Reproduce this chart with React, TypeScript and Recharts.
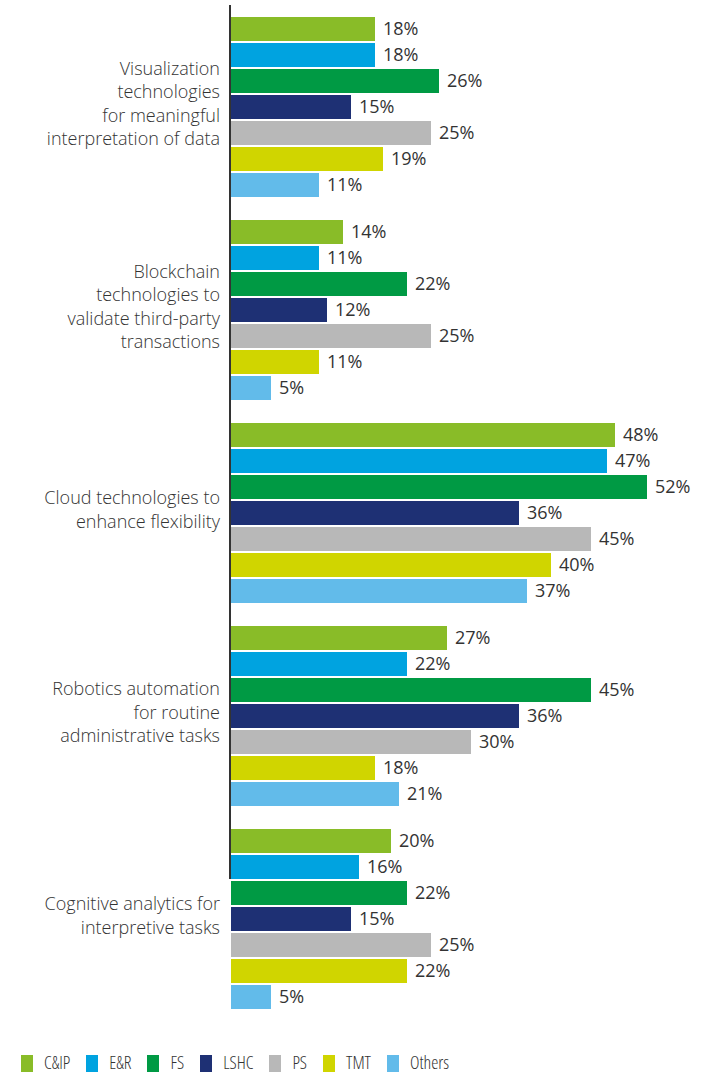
import { BarChart, Bar, XAxis, YAxis, LabelList } from "recharts";

const categories = [
  "Visualization technologies for meaningful interpretation of data",
  "Blockchain technologies to validate third-party transactions",
  "Cloud technologies to enhance flexibility",
  "Robotics automation for routine administrative tasks",
  "Cognitive analytics for interpretive tasks",
];
// how the category labels wrap in the picture
const categoryLines = [
  ["Visualization", "technologies", "for meaningful", "interpretation of data"],
  ["Blockchain", "technologies to", "validate third-party", "transactions"],
  ["Cloud technologies to", "enhance flexibility"],
  ["Robotics automation", "for routine", "administrative tasks"],
  ["Cognitive analytics for", "interpretive tasks"],
];

const seriesNames = ["C&IP", "E&R", "FS", "LSHC", "PS", "TMT", "Others"];
const seriesColors = ["#89bc28", "#00a3e0", "#009a44", "#1e3074", "#b8b8b8", "#d0d500", "#62bbea"];

const cipValues = [18, 14, 48, 27, 20];
const erValues = [18, 11, 47, 22, 16];
const fsValues = [26, 22, 52, 45, 22];
const lshcValues = [15, 12, 36, 36, 15];
const psValues = [25, 25, 45, 30, 25];
const tmtValues = [19, 11, 40, 18, 22];
const othersValues = [11, 5, 37, 21, 5];

const seriesValues = [cipValues, erValues, fsValues, lshcValues, psValues, tmtValues, othersValues];

const FONT = "'Open Sans', sans-serif";
const TEXT = "#333333";

const data = categories.map((c, i) => {
  const row: Record<string, any> = { name: c, idx: i };
  seriesNames.forEach((s, j) => (row[s] = seriesValues[j][i]));
  return row;
});

function CategoryTick(props: any) {
  const { x, y, index } = props;
  const lines = categoryLines[index] || [];
  const lh = 23.5;
  const start = y - 3 - ((lines.length - 1) * lh) / 2;
  const tx = x - 3;
  return (
    <text x={tx} textAnchor="end" fill={TEXT} fontSize={18} fontFamily={FONT} fontWeight={300}>
      {lines.map((l: string, k: number) => (
        <tspan key={k} x={tx} y={start + k * lh} dy="0.35em">
          {l}
        </tspan>
      ))}
    </text>
  );
}

export default function App() {
  return (
    <div style={{ position: "absolute", left: 0, top: 0, width: 718, height: 1072, background: "#fff", overflow: "hidden" }}>
      <BarChart
        width={718}
        height={1072}
        data={data}
        layout="vertical"
        margin={{ top: 5, right: 7, bottom: 52, left: 0 }}
        barGap={2}
        barSize={24}
      >
        <XAxis type="number" domain={[0, 60]} hide />
        <YAxis
          type="category"
          dataKey="name"
          width={231}
          axisLine={false}
          tickLine={false}
          tick={<CategoryTick />}
          interval={0}
        />
        {seriesNames.map((s, j) => (
          <Bar key={s} dataKey={s} fill={seriesColors[j]} isAnimationActive={false}>
            <LabelList
              dataKey={s}
              position="right"
              offset={8}
              formatter={(v: any) => `${v}%`}
              fill={TEXT}
              fontSize={18}
              fontFamily={FONT}
            />
          </Bar>
        ))}
      </BarChart>
      {/* the axis line in the source stops part way down the last group */}
      <div style={{ position: "absolute", left: 229, top: 5, width: 2, height: 874, background: "#333" }} />
      <div
        style={{
          position: "absolute",
          left: 21,
          top: 1053,
          display: "flex",
          alignItems: "flex-start",
          fontFamily: FONT,
          fontSize: 18,
          fontWeight: 300,
          fontStretch: "75%",
          color: "#333",
          lineHeight: "18px",
        }}
      >
        {seriesNames.map((s, j) => (
          <div key={s} style={{ display: "flex", alignItems: "flex-start", marginRight: 16 }}>
            <span style={{ width: 12, height: 19, marginTop: 2, background: seriesColors[j], display: "inline-block", marginRight: 11 }} />
            <span>{s}</span>
          </div>
        ))}
      </div>
    </div>
  );
}
